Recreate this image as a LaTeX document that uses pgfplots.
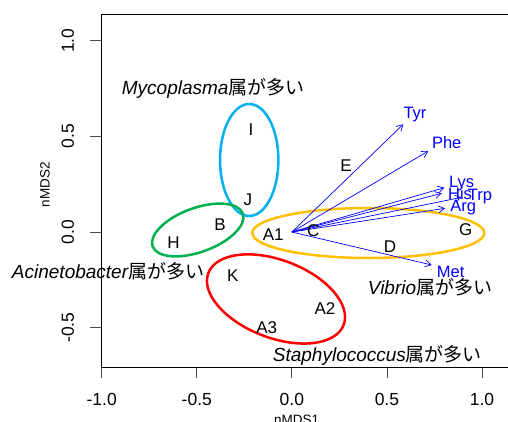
\documentclass[border=0pt]{standalone}
\usepackage{fontspec}
\setmainfont{Liberation Sans}
\newfontfamily\cjk{Noto Sans CJK JP}
\usepackage{pgfplots}
\pgfplotsset{compat=1.18}
\usetikzlibrary{arrows.meta}
\definecolor{ellblue}{HTML}{00B0F0}
\definecolor{ellgreen}{HTML}{00B050}
\definecolor{ellgold}{HTML}{FFC000}
\definecolor{ellred}{HTML}{FF0000}
\newcommand{\genus}[1]{{\itshape #1}{\cjk 属が多い}}
\tikzset{arr/.style={draw=blue, line width=0.7pt, -{Straight Barb[length=6pt,width=7pt]}}}
\begin{document}
\begin{tikzpicture}
\begin{axis}[
  at={(0,0)}, anchor=south west,
  scale only axis, width=407pt, height=353pt,
  xmin=-1.0037, xmax=1.1367, ymin=-0.7057, ymax=1.1396,
  axis lines*=left,
  axis line style={-, line width=0.8pt, black},
  clip=false,
  xtick={-1,-0.5,0,0.5,1},
  xticklabels={{-1.0},{-0.5},{0.0},{0.5},{1.0}},
  ytick={-0.5,0,0.5,1},
  yticklabels={{-0.5},{0.0},{0.5},{1.0}},
  tick align=outside,
  major tick length=10.5pt,
  tick style={line width=0.8pt, black!70},
  x tick label style={font=\fontsize{17.5}{20}\selectfont, yshift=-12pt},
  y tick label style={font=\fontsize{17.5}{20}\selectfont, rotate=90, anchor=south, yshift=13pt},
]
% sample labels
\addplot[draw=none, nodes near coords, point meta=explicit symbolic,
  nodes near coords align=center,
  every node near coord/.append style={font=\fontsize{17}{20}\selectfont, inner sep=0pt, black}]
  table[meta=label] {
x y label
-0.215 0.533 I
-0.231 0.167 J
0.285 0.345 E
-0.378 0.040 B
-0.623 -0.054 H
-0.0976 -0.012 A1
0.113 0.005 C
0.516 -0.077 D
0.914 0.014 G
-0.311 -0.230 K
0.174 -0.4025 A2
-0.132 -0.498 A3
};
% ellipses
\draw[ellblue, line width=2.5pt] (axis cs:-0.2243,0.3764) ellipse [x radius=0.1535, y radius=0.2927];
\draw[ellgreen, line width=2.5pt, rotate around={20:(axis cs:-0.495,0.0105)}] (axis cs:-0.495,0.0105) ellipse [x radius=0.2524, y radius=0.115];
\draw[ellgold, line width=2.5pt] (axis cs:0.402,-0.0052) ellipse [x radius=0.610, y radius=0.1307];
\draw[ellred, line width=2.5pt, rotate around={-21:(axis cs:-0.0834,-0.350)}] (axis cs:-0.0834,-0.350) ellipse [x radius=0.381, y radius=0.203];
% arrows
\addplot[arr] coordinates {(0,0) (0.586,0.563)};
\addplot[arr] coordinates {(0,0) (0.7176,0.4234)};
\addplot[arr] coordinates {(0,0) (0.8017,0.2316)};
\addplot[arr] coordinates {(0,0) (0.788,0.2023)};
\addplot[arr] coordinates {(0,0) (0.893,0.1814)};
\addplot[arr] coordinates {(0,0) (0.8054,0.1239)};
\addplot[arr] coordinates {(0,0) (0.7355,-0.1725)};
% arrow labels
\addplot[draw=none, nodes near coords, point meta=explicit symbolic,
  nodes near coords align=center,
  every node near coord/.append style={font=\fontsize{16.5}{20}\selectfont, inner sep=0pt, text=blue}]
  table[meta=label] {
x y label
0.6476 0.6116 Tyr
0.8143 0.4668 Phe
0.893 0.2546 Lys
0.8843 0.2023 His
0.9895 0.1845 Trp
0.9017 0.127 Arg
0.8354 -0.2075 Met
};
% top frame line
\draw[line width=0.8pt, black] (rel axis cs:0,1) -- (rel axis cs:1,1);
% genus labels
\node[anchor=west, inner sep=0pt, font=\fontsize{19}{22}\selectfont] at (axis cs:-0.895,0.753) {\genus{Mycoplasma}};
\node[anchor=west, inner sep=0pt, font=\fontsize{19}{22}\selectfont] at (axis cs:-1.473,-0.2075) {\genus{Acinetobacter}};
\node[anchor=west, inner sep=0pt, font=\fontsize{19}{22}\selectfont] at (axis cs:0.399,-0.2875) {\genus{Vibrio}};
\node[anchor=west, inner sep=0pt, font=\fontsize{19}{22}\selectfont] at (axis cs:-0.1007,-0.643) {\genus{Staphylococcus}};
% axis titles
\node[rotate=90, inner sep=0pt, font=\fontsize{13.5}{16}\selectfont] at (axis cs:-1.298,0.248) {nMDS2};
\node[anchor=north, inner sep=0pt, font=\fontsize{13.5}{16}\selectfont] at (axis cs:0.0255,-0.9566) {nMDS1};
\end{axis}
\pgfresetboundingbox
\path[use as bounding box] (-101pt,-54pt) rectangle (407pt,367pt);
\end{tikzpicture}
\end{document}
